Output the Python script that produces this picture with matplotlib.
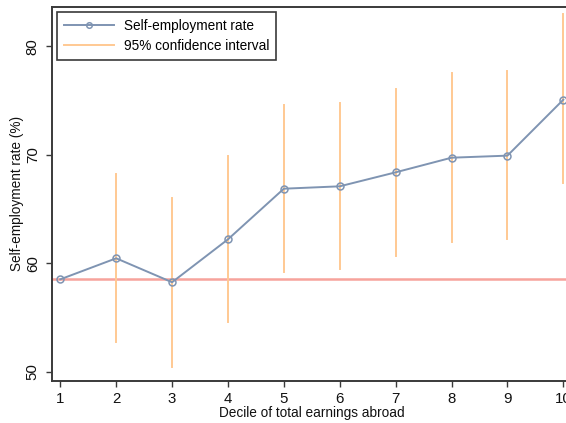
import matplotlib
matplotlib.use("Agg")
import matplotlib.pyplot as plt

plt.rcParams['font.family'] = ['Liberation Sans', 'DejaVu Sans']

# Self-employment rate by decile of total earnings abroad
deciles = [1, 2, 3, 4, 5, 6, 7, 8, 9, 10]
rate = [58.52, 60.46, 58.25, 62.21, 66.88, 67.10, 68.39, 69.74, 69.93, 75.09]
ci_low = [None, 52.77, 50.43, 54.60, 59.17, 59.45, 60.67, 61.96, 62.21, 67.38]
ci_high = [None, 68.20, 66.00, 69.93, 74.60, 74.76, 76.05, 77.53, 77.71, 82.96]
reference_rate = 58.55
yticks = [50, 60, 70, 80]

W, H = 566, 423
fig = plt.figure(figsize=(W / 100, H / 100), dpi=100)
left, right, top, bottom = 52.3, 571.3, 6.7, 381.0
ax = fig.add_axes([left / W, 1 - bottom / H, (right - left) / W, (bottom - top) / H])

line_col = '#7f94b2'
ci_col = '#ffc993'
ref_col = '#f7a39c'
axis_col = '#3a3a3a'

# confidence intervals
first_ci = True
for x, lo, hi in zip(deciles, ci_low, ci_high):
    if lo is None:
        continue
    ax.plot([x, x], [lo, hi], color=ci_col, lw=1.4, zorder=2,
            label='95% confidence interval' if first_ci else None)
    first_ci = False

ax.axhline(reference_rate, color=ref_col, lw=1.8, zorder=1)

ax.plot(deciles, rate, color=line_col, lw=1.4, marker='o', ms=5.0,
        mfc='none', mec=line_col, mew=1.1, zorder=3, label='Self-employment rate')

ax.set_xlim(0.857, 10.143)
ax.set_ylim(49.14, 83.67)
ax.set_xticks(deciles)
ax.set_yticks(yticks)

fs = 9.8
ax.tick_params(axis='both', labelsize=10.8, length=4, width=1.0, color=axis_col,
               labelcolor='#111111')
ax.tick_params(axis='x', pad=4)
ax.tick_params(axis='y', pad=5)
for lab in ax.get_yticklabels():
    lab.set_rotation(90)
    lab.set_va('center')

for s in ax.spines.values():
    s.set_color(axis_col)
    s.set_linewidth(1.4)

ax.set_xlabel('Decile of total earnings abroad', fontsize=fs, color='#111111', labelpad=0)
ax.set_ylabel('Self-employment rate (%)', fontsize=fs, color='#111111', labelpad=1)

handles, labels = ax.get_legend_handles_labels()
order = [labels.index('Self-employment rate'), labels.index('95% confidence interval')]
leg = ax.legend([handles[i] for i in order], [labels[i] for i in order],
                loc='upper left', bbox_to_anchor=(57.3 / W, 1 - 12.3 / H),
                bbox_transform=fig.transFigure, borderaxespad=0, fontsize=fs,
                handlelength=3.7, handletextpad=0.7, borderpad=0.5,
                labelspacing=0.45, fancybox=False, framealpha=1,
                edgecolor=axis_col, markerscale=0.8)
leg.get_frame().set_linewidth(1.2)

fig.savefig('out.png', dpi=100)
